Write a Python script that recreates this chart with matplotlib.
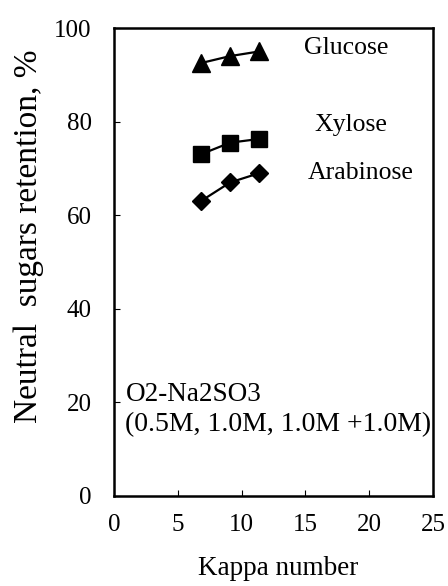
import numpy as np
from matplotlib import pyplot as plt

plt.rcParams['font.family'] = ['Liberation Serif', 'DejaVu Serif']

# kappa numbers for the three charges
kappa = [6.8, 9.1, 11.4]
glucose = [92.5, 94.0, 95.0]
xylose = [73.0, 75.5, 76.3]
arabinose = [63.0, 67.0, 69.0]

xticks = [0, 5, 10, 15, 20, 25]
yticks = [0, 20, 40, 60, 80, 100]

fig = plt.figure(figsize=(4.48, 5.86), dpi=100)
ax = fig.add_axes([0.2545, 0.1536, 0.712, 0.7986])

ax.plot(kappa, glucose, color="black", lw=1.6, marker="^", markersize=13)
ax.plot(kappa, xylose, color="black", lw=1.6, marker="s", markersize=11.5)
ax.plot(kappa, arabinose, color="black", lw=1.6, marker="D", markersize=9)

fs = 18.5
ax.text(18.2, 95.7, "Glucose", fontsize=fs, ha="center", va="center")
ax.text(18.6, 79.3, "Xylose", fontsize=fs, ha="center", va="center")
ax.text(19.3, 69.0, "Arabinose", fontsize=fs, ha="center", va="center")
ax.text(0.9, 21.6, "O2-Na2SO3", fontsize=19.5, ha="left", va="center")
ax.text(0.9, 15.2, "(0.5M, 1.0M, 1.0M +1.0M)", fontsize=20, ha="left",
        va="center", clip_on=False)

ax.set_xlim(0, 25)
ax.set_ylim(0, 100)
ax.set_xticks(xticks)
ax.set_yticks(yticks)
ax.tick_params(direction="in", length=4, width=0.8, labelsize=18)
ax.tick_params(axis="x", pad=13)
ax.tick_params(axis="y", pad=16)
for s in ax.spines.values():
    s.set_linewidth(1.8)

ax.set_xlabel("Kappa number", fontsize=19.5)
ax.set_ylabel("Neutral  sugars retention, %", fontsize=24)
ax.xaxis.set_label_coords(0.515, -0.128)
ax.yaxis.set_label_coords(-0.22, 0.555)

plt.savefig("out.png", dpi=100)
